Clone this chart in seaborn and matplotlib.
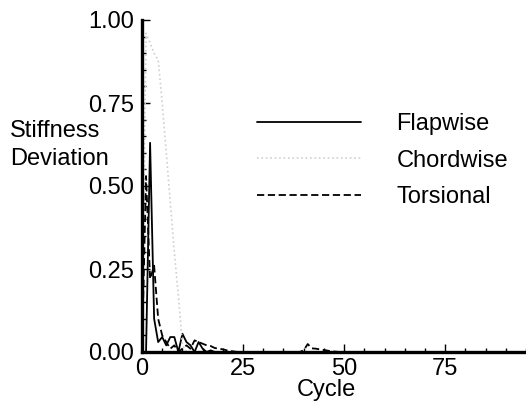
import matplotlib
matplotlib.use("Agg")
import matplotlib.pyplot as plt
import seaborn as sns
import pandas as pd
from matplotlib.ticker import MultipleLocator

cycles = list(range(0, 51))

flapwise = [0.0, 0.0, 0.63, 0.10, 0.03, 0.045, 0.02, 0.045, 0.045, 0.0,
            0.055, 0.03, 0.02, 0.0, 0.03, 0.01, 0.0, 0.005, 0.0, 0.0,
            0.0, 0.0, 0.0, 0.0, 0.0, 0.0, 0.0, 0.0, 0.0, 0.0,
            0.0, 0.0, 0.0, 0.0, 0.0, 0.0, 0.0, 0.0, 0.0, 0.0,
            0.0, 0.0, 0.0, 0.0, 0.0, 0.0, 0.0, 0.0, 0.0, 0.0, 0.0]

chordwise = [0.0, 0.96, 0.93, 0.90, 0.88, 0.75, 0.60, 0.45, 0.30, 0.17,
             0.02, 0.0, 0.0, 0.0, 0.0, 0.0, 0.0, 0.0, 0.0, 0.0,
             0.0, 0.0, 0.0, 0.0, 0.0, 0.0, 0.0, 0.0, 0.0, 0.0,
             0.0, 0.0, 0.0, 0.0, 0.0, 0.0, 0.0, 0.0, 0.0, 0.0,
             0.0, 0.0, 0.0, 0.0, 0.0, 0.0, 0.0, 0.0, 0.0, 0.0, 0.0]

torsional = [0.0, 0.53, 0.22, 0.26, 0.10, 0.05, 0.03, 0.01, 0.02, 0.0,
             0.01, 0.02, 0.01, 0.035, 0.03, 0.025, 0.02, 0.018, 0.012, 0.01,
             0.008, 0.005, 0.003, 0.001, 0.0, 0.0, 0.0, 0.0, 0.0, 0.0,
             0.0, 0.0, 0.0, 0.0, 0.0, 0.0, 0.0, 0.0, 0.0, 0.0,
             0.005, 0.024, 0.011, 0.01, 0.008, 0.006, 0.004, 0.002, 0.001, 0.0, 0.0]

series_names = ["Flapwise", "Chordwise", "Torsional"]
x_ticks = [0, 25, 50, 75]
y_ticks = [0.00, 0.25, 0.50, 0.75, 1.00]

sns.set_style("ticks")
plt.rcParams['font.family'] = ['Liberation Sans', 'DejaVu Sans']
plt.rcParams['text.color'] = 'black'
plt.rcParams['axes.labelcolor'] = 'black'

W, H = 526, 405
fig = plt.figure(figsize=(W / 100, H / 100), dpi=100)
ax = fig.add_axes([142 / W, 53 / H, (W - 142) / W, (352 - 20) / H])

df = pd.DataFrame({"Cycle": cycles, "Flapwise": flapwise,
                   "Chordwise": chordwise, "Torsional": torsional})

styles = {
    "Flapwise": dict(color="black", linewidth=1.3, linestyle="-"),
    "Chordwise": dict(color="#cfcfcf", linewidth=1.2, linestyle=":"),
    "Torsional": dict(color="black", linewidth=1.3, dashes=(4, 2)),
}
for name in series_names:
    sns.lineplot(data=df, x="Cycle", y=name, ax=ax, label=name, **styles[name])

ax.set_xlim(0, 95)
ax.set_ylim(0, 1.0)
ax.set_xticks(x_ticks)
ax.set_yticks(y_ticks)
ax.set_yticklabels([f"{v:.2f}" for v in y_ticks])
ax.xaxis.set_minor_locator(MultipleLocator(5))
ax.yaxis.set_minor_locator(MultipleLocator(0.05))

for s in ["top", "right"]:
    ax.spines[s].set_visible(False)
for s in ["left", "bottom"]:
    ax.spines[s].set_linewidth(2.4)
    ax.spines[s].set_color("black")

ax.tick_params(axis="both", which="major", direction="in", length=5.5,
               width=1.0, labelsize=17, colors="black")
ax.tick_params(axis="both", which="minor", direction="in", length=3,
               width=1.0, colors="black")
ax.tick_params(axis="y", which="major", pad=6)
ax.tick_params(axis="x", which="major", pad=4)

ax.set_ylabel("")
ax.set_xlabel("Cycle", fontsize=17, color="black")
ax.xaxis.set_label_coords((326 - 142) / (W - 142), -0.08)

fig.text(10 / W, (H - 145) / H, "Stiffness\nDeviation", fontsize=17,
         ha="left", va="center", multialignment="left", linespacing=1.4,
         color="black")

leg = ax.legend(loc="upper left", bbox_to_anchor=(257 / W, (H - 113) / H),
                bbox_transform=fig.transFigure, frameon=False, fontsize=17,
                handlelength=4.4, handletextpad=1.5, labelspacing=0.62,
                borderpad=0, borderaxespad=0)
for t in leg.get_texts():
    t.set_color("black")

fig.savefig("out.png", dpi=100)
